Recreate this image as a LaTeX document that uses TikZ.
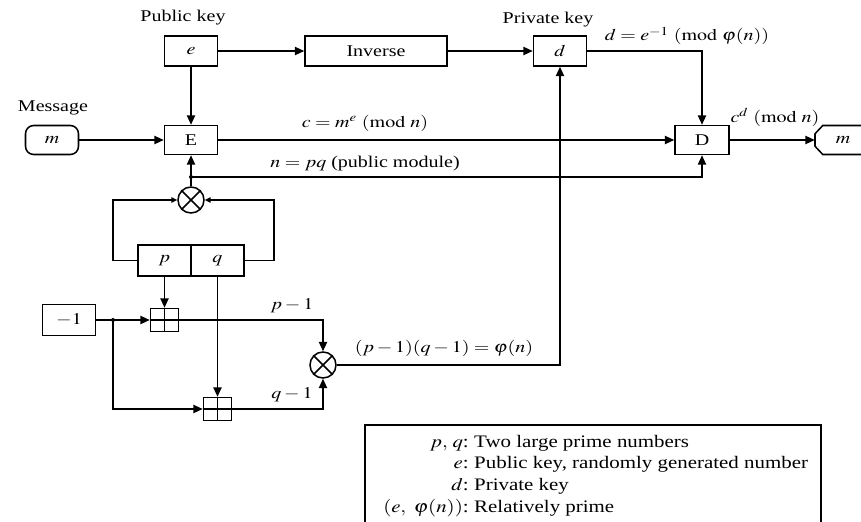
\documentclass[tikz,border=0pt]{standalone}
\usepackage{mathptmx}
\usepackage{fontspec}
\setmainfont{Liberation Serif}
\usetikzlibrary{arrows.meta}
\newdimen\pxu \pxu=0.03cm
\newcommand{\sx}[1]{\scalebox{1.22}[1]{#1}}
\newcommand{\sy}[1]{\scalebox{1.19}[1]{#1}}
\tikzset{
 x=0.03cm, y=-0.03cm,
 every node/.style={font=\fontsize{14}{16}\selectfont, inner sep=0pt},
 blk/.style={draw, line width=1.3pt, minimum width=53\pxu, minimum height=30\pxu},
 wire/.style={line width=1.3pt},
 arr/.style={wire, -{Triangle[length=8pt,width=7pt]}},
 sarr/.style={wire, -{Triangle[length=5pt,width=4.5pt]}},
 oplusbox/.style={draw, line width=1.3pt, minimum width=28\pxu, minimum height=23\pxu},
 otim/.style={draw, circle, line width=1.3pt, minimum size=26\pxu},
 jdot/.style={circle, fill, minimum size=4\pxu},
 legend/.style={font=\fontsize{15}{17}\selectfont},
}
\begin{document}
\begin{tikzpicture}
\clip (0,0) rectangle (861,521);
% top row
\node (pubk) at (183,18) {\sx{Public key}};
\node[blk] (e) at (191,51) {\sx{$e$}};
\node[blk, minimum width=142\pxu] (inv) at (376,51) {\sx{Inverse}};
\node (privk) at (548,20) {\sx{Private key}};
\node[blk] (d) at (560,51) {\sx{$d$}};
\node (dlab) at (687,36) {\sx{$d = e^{-1}\ (\mathrm{mod}\ \varphi(n))$}};
% middle row
\node (msg) at (53,108) {\sx{Message}};
\node[draw, line width=1.3pt, rounded corners=7pt, minimum width=53\pxu, minimum height=29\pxu] (m1) at (52,140) {\sx{$m$}};
\node[blk, minimum height=29\pxu] (E) at (191,140) {\sx{E}};
\node[blk, minimum width=54\pxu, minimum height=29\pxu] (D) at (702,140) {\sx{D}};
\node[minimum width=56\pxu, minimum height=29\pxu] (m2) at (843,140) {\sx{$m$}};
\draw[wire] (m2.west) ++(0,-6) -- ++(8,-8.5) -- ++(60,0);
\draw[wire] (m2.west) ++(0,6) -- ++(8,8.5) -- ++(60,0);
\draw[wire] (m2.west) ++(0,-6) -- ++(0,12);
\node (clab) at (365,123) {\sx{$c = m^{e}\ (\mathrm{mod}\ n)$}};
\node (nlab) at (365,164) {\sx{$n = pq$ (public module)}};
\node (cdlab) at (775,117) {\sx{$c^{d}\ (\mathrm{mod}\ n)$}};
% lower part
\node[jdot] (j1) at (191,177) {};
\node[otim] (o1) at (191,200) {};
\draw[wire] (o1.45) -- (o1.225) (o1.135) -- (o1.315);
\node[draw, line width=1.3pt, minimum width=53\pxu, minimum height=31\pxu] (p) at (164.5,260.5) {\sx{$p$}};
\node[draw, line width=1.3pt, minimum width=53\pxu, minimum height=31\pxu] (q) at (217.5,260.5) {\sx{$q$}};
\node[draw, line width=1.3pt, minimum width=53\pxu, minimum height=31\pxu] (mone) at (69,320) {\sx{$-1$}};
\node[oplusbox] (s1) at (164.5,320) {};
\draw[wire] (s1.north) -- (s1.south) (s1.west) -- (s1.east);
\node[oplusbox] (s2) at (217.5,409) {};
\draw[wire] (s2.north) -- (s2.south) (s2.west) -- (s2.east);
\node[jdot] (j2) at (113,320) {};
\node[otim] (o2) at (323,365) {};
\draw[wire] (o2.45) -- (o2.225) (o2.135) -- (o2.315);
\node (pm1) at (292,306) {\sx{$p-1$}};
\node (qm1) at (292,395) {\sx{$q-1$}};
\node (phil) at (444,348) {\sx{$(p-1)(q-1) = \varphi(n)$}};
% connectors
\draw[arr] (e) -- (inv);
\draw[arr] (inv) -- (d);
\draw[arr] (e) -- (E);
\draw[arr] (m1) -- (E);
\draw[arr] (E) -- (D);
\draw[arr] (D) -- (m2.west);
\draw[arr] (d.east) -| (D.north);
\draw[arr] (o1.north) -- (E.south);
\draw[arr] (j1.center) -| (D.south);
\draw[sarr] (p.west) -- ++(-24,0) |- (o1.west);
\draw[sarr] (q.east) -- ++(29,0) |- (o1.east);
\draw[arr] (p.south) -- (s1.north);
\draw[arr] (mone.east) -- (s1.west);
\draw[arr] (j2.center) |- (s2.west);
\draw[arr] (q.south) -- (s2.north);
\draw[arr] (s1.east) -| (o2.north);
\draw[arr] (s2.east) -| (o2.south);
\draw[arr] (o2.east) -| (d.south);
% legend
\draw[wire] (365,425) rectangle (821,545);
\node[legend, anchor=base east] (l1a) at (469,447) {\sy{$p,\,q$:}};
\node[legend, anchor=base west] (l1b) at (474,447) {\sy{Two large prime numbers}};
\node[legend, anchor=base east] (l2a) at (469,468) {\sy{$e$:}};
\node[legend, anchor=base west] (l2b) at (474,468) {\sy{Public key, randomly generated number}};
\node[legend, anchor=base east] (l3a) at (469,490) {\sy{$d$:}};
\node[legend, anchor=base west] (l3b) at (474,490) {\sy{Private key}};
\node[legend, anchor=base east] (l4a) at (469,512) {\sy{$(e,\ \varphi(n))$:}};
\node[legend, anchor=base west] (l4b) at (474,512) {\sy{Relatively prime}};
\end{tikzpicture}
\end{document}
